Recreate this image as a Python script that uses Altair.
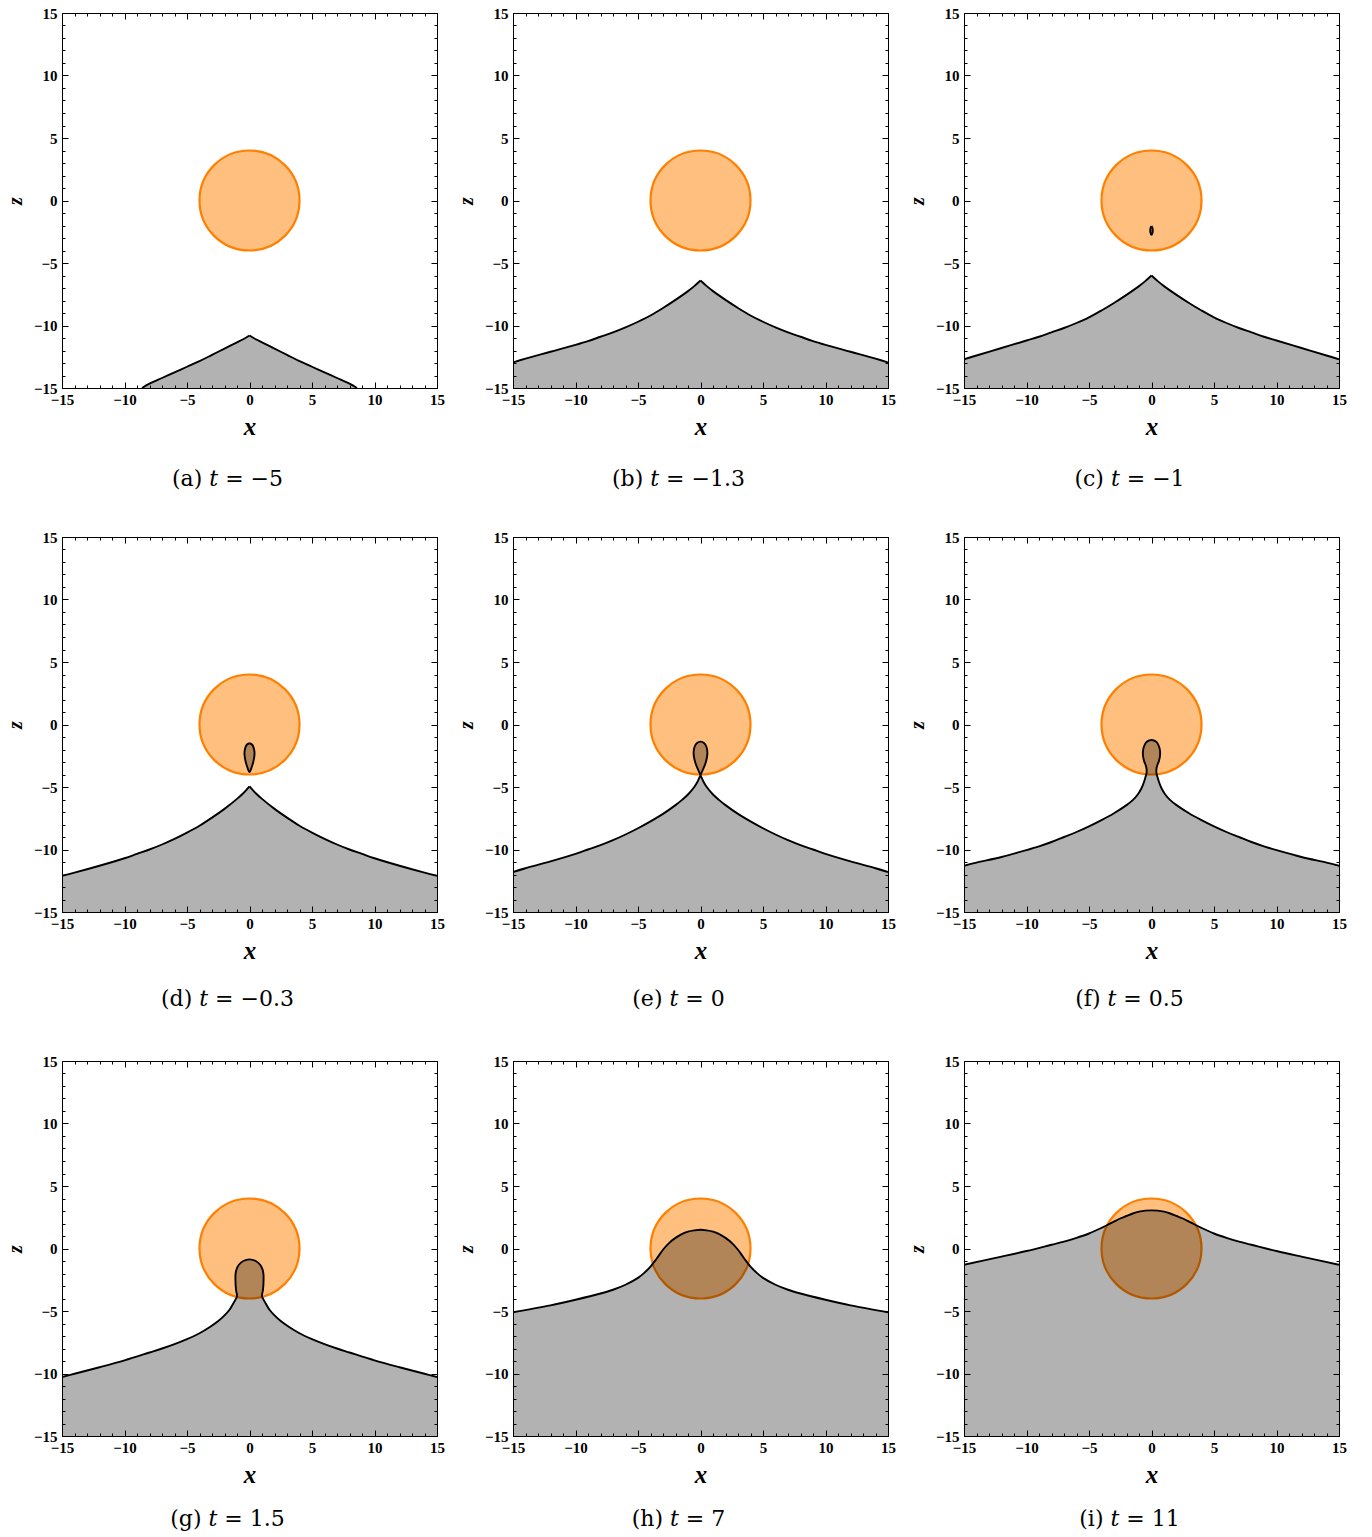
import altair as alt
import pandas as pd

W = H = 375
Z_MIN, Z_MAX = -15, 15
MAJOR_TICKS = [-15, -10, -5, 0, 5, 10, 15]
MINOR_TICKS = list(range(-15, 16))
MAJOR_LEN, MINOR_LEN = 6, 3
ORANGE = "#ff8000"

LABELS = ["(a)  𝑡 = −5", "(b)  𝑡 = −1.3", "(c)  𝑡 = −1",
          "(d)  𝑡 = −0.3", "(e)  𝑡 = 0", "(f)  𝑡 = 0.5",
          "(g)  𝑡 = 1.5", "(h)  𝑡 = 7", "(i)  𝑡 = 11"]

CIRCLE_X = [0]
CIRCLE_Z = [0]
CIRCLE_R = [4]

# ---- interface profiles (x, z) ----
A_X = [-8.6, -8, -7, -6, -5, -4, -3, -2, -1, -0.5, 0, 0.5, 1, 2, 3, 4, 5, 6, 7, 8, 8.6]
A_Z = [-15, -14.65, -14.2, -13.75, -13.3, -12.85, -12.35, -11.85, -11.35, -11.1, -10.8,
       -11.1, -11.35, -11.85, -12.35, -12.85, -13.3, -13.75, -14.2, -14.65, -15]

X_CUSP = [-15, -14, -12, -10, -9, -8, -7, -6, -5, -4, -3, -2, -1, -0.5, 0,
          0.5, 1, 2, 3, 4, 5, 6, 7, 8, 9, 10, 12, 14, 15]
B_Z = [-12.95, -12.65, -12.1, -11.55, -11.25, -10.9, -10.55, -10.15, -9.7, -9.2, -8.6, -7.95, -7.25, -6.85, -6.4,
       -6.85, -7.25, -7.95, -8.6, -9.2, -9.7, -10.15, -10.55, -10.9, -11.25, -11.55, -12.1, -12.65, -12.95]
C_Z = [-12.7, -12.4, -11.8, -11.2, -10.9, -10.55, -10.2, -9.8, -9.35, -8.8, -8.2, -7.55, -6.85, -6.45, -6.0,
       -6.45, -6.85, -7.55, -8.2, -8.8, -9.35, -9.8, -10.2, -10.55, -10.9, -11.2, -11.8, -12.4, -12.7]
D_Z = [-12.1, -11.85, -11.3, -10.7, -10.35, -10.0, -9.6, -9.15, -8.65, -8.1, -7.45, -6.75, -5.95, -5.5, -4.95,
       -5.5, -5.95, -6.75, -7.45, -8.1, -8.65, -9.15, -9.6, -10.0, -10.35, -10.7, -11.3, -11.85, -12.1]

C_BUB_X = [0, 0.08, 0.1, 0.08, 0, -0.08, -0.1, -0.08, 0]
C_BUB_Z = [-2.05, -2.2, -2.4, -2.6, -2.75, -2.6, -2.4, -2.2, -2.05]
D_BUB_X = [0, 0.2, 0.33, 0.4, 0.38, 0.3, 0.18, 0, -0.18, -0.3, -0.38, -0.4, -0.33, -0.2, 0]
D_BUB_Z = [-1.5, -1.6, -1.85, -2.2, -2.6, -3.0, -3.4, -3.8, -3.4, -3.0, -2.6, -2.2, -1.85, -1.6, -1.5]

E_X = [-15, -14, -12, -10, -9, -8, -7, -6, -5, -4, -3, -2, -1.5, -1, -0.5, -0.25, 0,
       0.2, 0.4, 0.52, 0.55, 0.48, 0.3, 0, -0.3, -0.48, -0.55, -0.52, -0.4, -0.2, 0,
       0.25, 0.5, 1, 1.5, 2, 3, 4, 5, 6, 7, 8, 9, 10, 12, 14, 15]
E_Z = [-11.8, -11.5, -10.95, -10.35, -10.0, -9.65, -9.25, -8.8, -8.3, -7.75, -7.15, -6.45, -6.05, -5.6, -5.0, -4.6, -4.05,
       -3.6, -3.1, -2.6, -2.2, -1.8, -1.5, -1.37, -1.5, -1.8, -2.2, -2.6, -3.1, -3.6, -4.05,
       -4.6, -5.0, -5.6, -6.05, -6.45, -7.15, -7.75, -8.3, -8.8, -9.25, -9.65, -10.0, -10.35, -10.95, -11.5, -11.8]

F_X = [-15, -14, -12, -10, -9, -8, -7, -6, -5, -4, -3, -2, -1.5, -1.1, -0.8, -0.6, -0.47,
       -0.4, -0.39, -0.45, -0.6, -0.68, -0.68, -0.58, -0.38, 0, 0.38, 0.58, 0.68, 0.68, 0.6, 0.45, 0.39, 0.4,
       0.47, 0.6, 0.8, 1.1, 1.5, 2, 3, 4, 5, 6, 7, 8, 9, 10, 12, 14, 15]
F_Z = [-11.3, -11.05, -10.6, -10.05, -9.75, -9.4, -9.0, -8.6, -8.15, -7.65, -7.1, -6.45, -6.05, -5.6, -5.1, -4.6, -4.17,
       -3.9, -3.6, -3.3, -2.9, -2.5, -2.1, -1.7, -1.38, -1.24, -1.38, -1.7, -2.1, -2.5, -2.9, -3.3, -3.6, -3.9,
       -4.17, -4.6, -5.1, -5.6, -6.05, -6.45, -7.1, -7.65, -8.15, -8.6, -9.0, -9.4, -9.75, -10.05, -10.6, -11.05, -11.3]

G_X = [-15, -14, -12, -10, -8, -7, -6, -5, -4, -3.2, -2.5, -2.0, -1.6, -1.3, -1.1, -1.0,
       -1.08, -1.12, -1.12, -1.05, -0.85, -0.5, 0, 0.5, 0.85, 1.05, 1.12, 1.12, 1.08,
       1.0, 1.1, 1.3, 1.6, 2.0, 2.5, 3.2, 4, 5, 6, 7, 8, 10, 12, 14, 15]
G_Z = [-10.28, -10.02, -9.5, -8.95, -8.32, -8.0, -7.65, -7.25, -6.78, -6.3, -5.8, -5.35, -4.9, -4.4, -4.05, -3.8,
       -3.3, -2.7, -2.1, -1.7, -1.3, -1.0, -0.87, -1.0, -1.3, -1.7, -2.1, -2.7, -3.3,
       -3.8, -4.05, -4.4, -4.9, -5.35, -5.8, -6.3, -6.78, -7.25, -7.65, -8.0, -8.32, -8.95, -9.5, -10.02, -10.28]

H_X = [-15, -12, -10, -8, -7, -6, -5, -4.5, -4, -3.5, -3, -2.5, -2, -1.5, -1, -0.5, 0,
       0.5, 1, 1.5, 2, 2.5, 3, 3.5, 4, 4.5, 5, 6, 7, 8, 10, 12, 15]
H_Z = [-5.1, -4.55, -4.1, -3.6, -3.3, -2.9, -2.35, -1.95, -1.45, -0.8, -0.1, 0.45, 0.85, 1.15, 1.35, 1.45, 1.5,
       1.45, 1.35, 1.15, 0.85, 0.45, -0.1, -0.8, -1.45, -1.95, -2.35, -2.9, -3.3, -3.6, -4.1, -4.55, -5.1]

I_X = [-15, -12, -10, -8, -7, -6, -5, -4, -3.5, -3, -2.5, -2, -1.5, -1, -0.5, 0,
       0.5, 1, 1.5, 2, 2.5, 3, 3.5, 4, 5, 6, 7, 8, 10, 12, 15]
I_Z = [-1.3, -0.65, -0.2, 0.3, 0.55, 0.85, 1.2, 1.65, 1.9, 2.15, 2.4, 2.6, 2.8, 2.95, 3.03, 3.05,
       3.03, 2.95, 2.8, 2.6, 2.4, 2.15, 1.9, 1.65, 1.2, 0.85, 0.55, 0.3, -0.2, -0.65, -1.3]

# (main profile, closed bubbles, profile has a cusp at its apex)
PANELS = [
    ((A_X, A_Z), [], True),
    ((X_CUSP, B_Z), [], True),
    ((X_CUSP, C_Z), [(C_BUB_X, C_BUB_Z)], True),
    ((X_CUSP, D_Z), [(D_BUB_X, D_BUB_Z)], True),
    ((E_X, E_Z), [], False),
    ((F_X, F_Z), [], False),
    ((G_X, G_Z), [], False),
    ((H_X, H_Z), [], False),
    ((I_X, I_Z), [], False),
]

XS = alt.Scale(domain=[-15, 15], nice=False, zero=False)
YS = alt.Scale(domain=[-15, 15], nice=False, zero=False)

LABEL_FONT = "Liberation Serif"
CAPTION_FONT = "DejaVu Serif"
CAPTION_OFFSETS = [30, 26, 22]


def path_frame(paths):
    frames = []
    for pid, (xs, zs) in enumerate(paths):
        df = pd.DataFrame({"x": list(xs), "z": list(zs)})
        df["i"] = range(len(df))
        df["pid"] = pid
        frames.append(df)
    return pd.concat(frames, ignore_index=True)


def axis(orient, kind):
    common = dict(orient=orient, grid=False, domain=False)
    if kind == "label":
        is_x = orient in ("bottom", "top")
        return alt.Axis(values=MAJOR_TICKS, ticks=False, labels=True,
                        labelFont=LABEL_FONT, labelFontWeight="bold", labelFontSize=15,
                        labelColor="black", labelPadding=4 if is_x else 5,
                        labelFlush=False, labelOverlap=False,
                        title="x" if is_x else "z", titleFont=LABEL_FONT,
                        titleFontStyle="italic", titleFontWeight="bold",
                        titleFontSize=25 if is_x else 20, titleColor="black",
                        titlePadding=7 if is_x else 8, **common)
    size = MAJOR_LEN if kind == "major" else MINOR_LEN
    vals = MAJOR_TICKS if kind == "major" else MINOR_TICKS
    return alt.Axis(values=vals, ticks=True, tickSize=size, tickColor="black", tickWidth=1,
                    labels=False, title="", offset=-size, **common)


def panel(k):
    main, bubbles, cusp = PANELS[k]
    mx, mz = list(main[0]), list(main[1])
    # fill polygon: profile closed along the bottom edge of the frame
    fill_paths = [(mx + [mx[-1], mx[0]], mz + [Z_MIN, Z_MIN])] + bubbles
    # stroke: split cusped profiles at their apex so the tip stays sharp
    if cusp:
        a = mz.index(max(mz))
        stroke_paths = [(mx[:a + 1], mz[:a + 1]), (mx[a:], mz[a:])] + bubbles
    else:
        stroke_paths = [(mx, mz)] + bubbles
    stroke_df = path_frame(stroke_paths)
    fill_df = path_frame(fill_paths)
    circ_df = pd.DataFrame({"cx": CIRCLE_X, "cz": CIRCLE_Z, "r": CIRCLE_R})
    tick_df = pd.DataFrame({"v": [-15, 15]})

    circle = alt.Chart(circ_df).mark_arc(
        fill=ORANGE, fillOpacity=0.5, stroke=ORANGE, strokeWidth=2.2,
        theta=0, theta2=6.283185307179586
    ).encode(
        x=alt.X("cx:Q", scale=XS, axis=None),
        y=alt.Y("cz:Q", scale=YS, axis=None),
        radius=alt.Radius("r:Q", scale=alt.Scale(type="linear", domain=[0, 30], range=[0, W], zero=True)),
    )
    fill = alt.Chart(fill_df).mark_line(
        fill="black", fillOpacity=0.3, strokeOpacity=0, clip=True
    ).encode(
        x=alt.X("x:Q", scale=XS, axis=None),
        y=alt.Y("z:Q", scale=YS, axis=None),
        detail="pid:N", order="i:Q",
    )
    stroke = alt.Chart(stroke_df).mark_line(
        color="black", strokeWidth=1.9, clip=True, interpolate="catmull-rom"
    ).encode(
        x=alt.X("x:Q", scale=XS, axis=None),
        y=alt.Y("z:Q", scale=YS, axis=None),
        detail="pid:N", order="i:Q",
    )
    ax_layers = []
    for xo, yo, kind in [("bottom", "left", "label"), ("bottom", "left", "major"),
                         ("bottom", "left", "minor"), ("top", "right", "major"),
                         ("top", "right", "minor")]:
        ax_layers.append(
            alt.Chart(tick_df).mark_point(opacity=0).encode(
                x=alt.X("v:Q", scale=XS, axis=axis(xo, kind)),
                y=alt.Y("v:Q", scale=YS, axis=axis(yo, kind)),
            )
        )
    return alt.layer(circle, fill, stroke, *ax_layers).resolve_axis(
        x="independent", y="independent"
    ).properties(
        width=W, height=H,
        title=alt.TitleParams(LABELS[k], orient="bottom", anchor="middle",
                              offset=CAPTION_OFFSETS[k // 3], dx=-22,
                              font=CAPTION_FONT, fontSize=22, fontWeight="normal", color="black"),
    )


rows = [alt.hconcat(*[panel(r * 3 + c) for c in range(3)], spacing=10) for r in range(3)]
top_rows = alt.vconcat(rows[0], rows[1], spacing=38)
chart = alt.vconcat(top_rows, rows[2], spacing=42).configure_view(
    stroke="black", strokeWidth=1
).configure_axis(grid=False).properties(
    padding={"left": 4, "top": 5, "right": 5, "bottom": 5},
    background="white",
)

chart.save("out.html", embed_options={"renderer": "svg", "actions": False})
